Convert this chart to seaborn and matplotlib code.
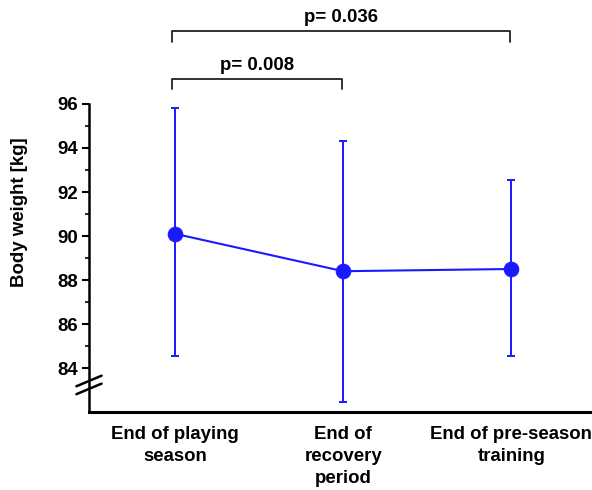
import matplotlib
matplotlib.use("Agg")
import matplotlib.pyplot as plt
import seaborn as sns
import numpy as np
import pandas as pd

categories = ["End of playing\nseason", "End of\nrecovery\nperiod", "End of pre-season\ntraining"]
means = [90.1, 88.4, 88.5]
upper = [95.8, 94.3, 92.55]
lower = [84.55, 82.45, 84.55]
p_labels = ["p= 0.008", "p= 0.036"]

sns.set_style("white")
plt.rcParams["font.family"] = ["Liberation Sans", "DejaVu Sans"]
plt.rcParams["font.weight"] = "bold"
for k in ["text.color", "axes.labelcolor", "xtick.color", "ytick.color"]:
    plt.rcParams[k] = "black"

fs = 13.4
blue = "#1a1aff"
fig = plt.figure(figsize=(5.92, 4.90), dpi=100)
ax = fig.add_axes([89/592, 78/490, 1 - 89/592, (412-104)/490])

x = np.arange(len(categories))
df = pd.DataFrame({"x": x, "y": means})
yerr = np.array([np.array(means) - np.array(lower), np.array(upper) - np.array(means)])
ax.errorbar(x, means, yerr=yerr, fmt="none", ecolor=blue, elinewidth=1.4, capsize=3, capthick=1.4, zorder=2)
sns.lineplot(data=df, x="x", y="y", ax=ax, color=blue, lw=1.5, marker="o", markersize=10.5,
             markeredgecolor=blue, markerfacecolor=blue, zorder=3)

ax.set_xlim(-0.512, 2.48)
ax.set_ylim(82, 96)
ax.set_xticks(x)
ax.set_xticklabels(categories, fontsize=fs, fontweight="bold", linespacing=1.38)
ax.tick_params(axis="x", length=0, pad=10)
ax.set_yticks(np.arange(84, 97, 2))
ax.set_yticklabels([str(v) for v in range(84, 97, 2)], fontsize=fs, fontweight="bold")
ax.set_yticks(np.arange(85, 96, 2), minor=True)
ax.tick_params(axis="y", which="major", direction="out", length=5, width=1.5, left=True, color="black", pad=3)
ax.tick_params(axis="y", which="minor", direction="out", length=3, width=1.2, left=True, color="black")
ax.set_xlabel("")
ax.set_ylabel("Body weight [kg]", fontsize=fs, fontweight="bold")
ax.yaxis.set_label_coords(-0.121, 0.65)

for s in ["top", "right"]:
    ax.spines[s].set_visible(False)
ax.spines["left"].set_linewidth(1.8)
ax.spines["bottom"].set_linewidth(2.2)
ax.spines["left"].set_color("black")
ax.spines["bottom"].set_color("black")

# axis break marks
trans = ax.get_yaxis_transform()
for yb in [83.41, 83.05]:
    ax.plot([-0.025, 0.025], [yb - 0.24, yb + 0.24], transform=trans, color="black", lw=1.8, clip_on=False)

# significance brackets
bc = "#222222"
def bracket(x0, x1, y, h, label):
    ax.plot([x0, x0, x1, x1], [y - h, y, y, y - h], color=bc, lw=1.3, clip_on=False)
    ax.text((x0 + x1) / 2, y + 0.22, label, ha="center", va="bottom", fontsize=fs, fontweight="bold", clip_on=False)

bracket(-0.02, 0.99, 97.14, 0.46, p_labels[0])
bracket(-0.02, 1.99, 99.32, 0.5, p_labels[1])

fig.savefig("out.png", dpi=100)
